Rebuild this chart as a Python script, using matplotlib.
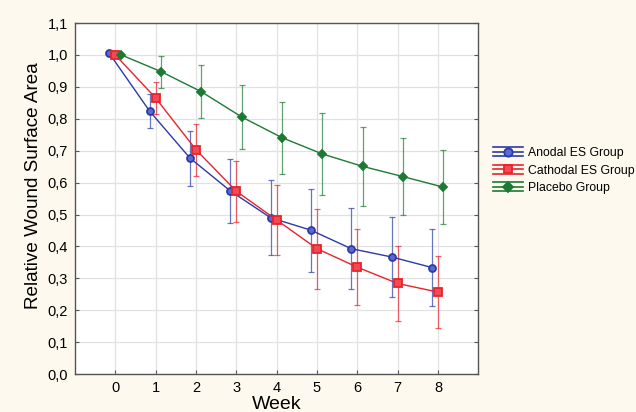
import matplotlib
matplotlib.use("Agg")
import matplotlib.pyplot as plt
from matplotlib.legend_handler import HandlerBase
from matplotlib.lines import Line2D
from matplotlib.ticker import FuncFormatter, MultipleLocator

plt.rcParams["font.family"] = ["Liberation Sans", "DejaVu Sans"]

weeks = [0, 1, 2, 3, 4, 5, 6, 7, 8]

anodal = [1.005, 0.824, 0.677, 0.574, 0.490, 0.451, 0.393, 0.367, 0.334]
anodal_err = [0.0, 0.053, 0.086, 0.100, 0.117, 0.130, 0.127, 0.124, 0.120]

cathodal = [1.000, 0.865, 0.703, 0.573, 0.483, 0.393, 0.335, 0.284, 0.257]
cathodal_err = [0.0, 0.050, 0.082, 0.095, 0.110, 0.125, 0.120, 0.117, 0.114]

placebo = [1.001, 0.948, 0.885, 0.806, 0.741, 0.690, 0.651, 0.619, 0.586]
placebo_err = [0.0, 0.050, 0.083, 0.100, 0.113, 0.128, 0.123, 0.121, 0.117]

groups = ["Anodal ES Group", "Cathodal ES Group", "Placebo Group"]

bg = "#fdf9ef"


class ErrBarHandler(HandlerBase):
    # statistica-style legend key: line with marker plus bars above and below
    def create_artists(self, legend, orig_handle, xdescent, ydescent,
                       width, height, fontsize, trans):
        c = orig_handle.get_color()
        ym = height / 2 - ydescent
        off = height * 0.5
        arts = []
        for dy in (-off, off):
            arts.append(Line2D([-xdescent, width - xdescent], [ym + dy, ym + dy],
                               color=c, lw=1.2, transform=trans))
        arts.append(Line2D([-xdescent, width - xdescent], [ym, ym],
                           color=c, lw=1.2, transform=trans))
        arts.append(Line2D([width / 2 - xdescent], [ym],
                           marker=orig_handle.get_marker(),
                           markersize=orig_handle.get_markersize() + 1,
                           markerfacecolor=orig_handle.get_markerfacecolor(),
                           markeredgecolor=orig_handle.get_markeredgecolor(),
                           markeredgewidth=orig_handle.get_markeredgewidth(),
                           transform=trans))
        return arts


fig = plt.figure(figsize=(6.36, 4.12), dpi=100, facecolor=bg)
ax = fig.add_axes([0.118, 0.092, 0.634, 0.852])
ax.set_facecolor("white")

styles = [
    (anodal, anodal_err, -0.15, "#2b3aa6", "o", "#5a6ad0", 5),
    (cathodal, cathodal_err, 0.0, "#e8232b", "s", "#f24a52", 5.3),
    (placebo, placebo_err, 0.13, "#1d7a34", "D", "#1d7a34", 4),
]

handles = []
for (vals, errs, off, col, mk, face, ms), name in zip(styles, groups):
    xs = [w + off for w in weeks]
    ax.errorbar(xs, vals, yerr=errs, fmt="none", ecolor=col, elinewidth=0.9,
                capsize=2.2, capthick=0.9, alpha=0.7, zorder=3)
    ln, = ax.plot(xs, vals, color=col, lw=1.0, marker=mk, markersize=ms,
                  markerfacecolor=face, markeredgecolor=col,
                  markeredgewidth=1.3, zorder=4, label=name)
    handles.append(ln)

ax.set_xlim(-1, 9)
ax.set_ylim(0, 1.1)
ax.xaxis.set_major_locator(MultipleLocator(1))
ax.yaxis.set_major_locator(MultipleLocator(0.1))
ax.set_xticks(weeks)
ax.yaxis.set_major_formatter(FuncFormatter(lambda v, p: f"{v:.1f}".replace(".", ",")))
ax.grid(True, color="#e2e2e2", lw=0.9)
ax.set_axisbelow(True)
ax.tick_params(direction="in", length=3, color="#555555", labelsize=10.5,
               right=True, top=False)
ax.tick_params(axis="y", pad=5)
ax.tick_params(axis="x", pad=5)
for s in ax.spines.values():
    s.set_color("#555555")
    s.set_linewidth(1.0)

ax.set_xlabel("Week", fontsize=14, labelpad=1)
ax.set_ylabel("Relative Wound Surface Area", fontsize=13.6)
ax.yaxis.set_label_coords(-0.082, 0.536)

fig.legend(handles, groups, handler_map={Line2D: ErrBarHandler()},
           loc="upper left", bbox_to_anchor=(0.768, 0.655), frameon=False,
           fontsize=8.8, handlelength=2.4, handletextpad=0.45, labelspacing=0.45,
           borderaxespad=0)

fig.savefig("out.png", dpi=100, facecolor=bg)
